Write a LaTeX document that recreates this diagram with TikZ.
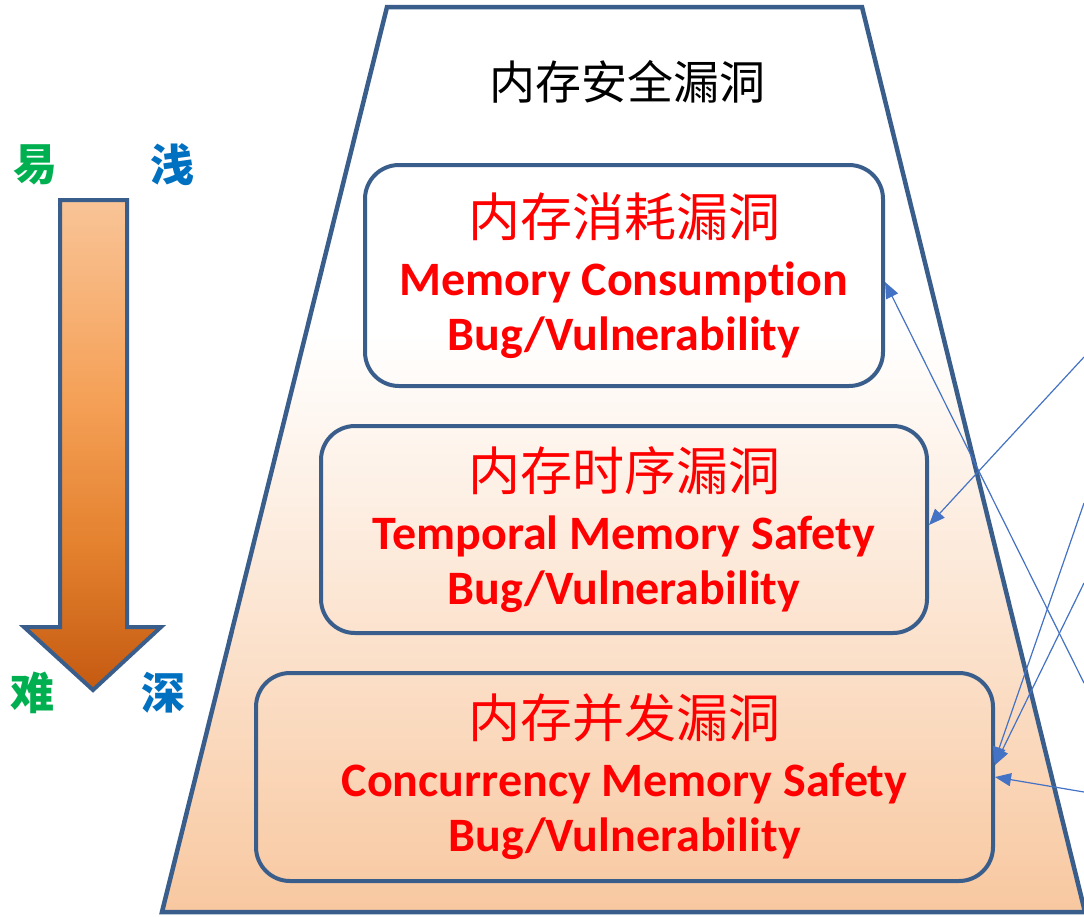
\documentclass[tikz,border=0pt]{standalone}
\usepackage{fontspec}
\newfontfamily\cjk{Noto Sans CJK SC}
\newfontfamily\calib[Ligatures=CommonOff]{Carlito}
\usetikzlibrary{arrows.meta,calc}

\definecolor{edge}{HTML}{3A5E8C}
\definecolor{peach}{HTML}{F8C8A0}
\definecolor{link}{HTML}{4472C4}
\definecolor{easy}{HTML}{00B050}
\definecolor{shallow}{HTML}{0070C0}
\definecolor{arrowtop}{HTML}{F9C497}
\definecolor{arrowmid}{HTML}{F5A158}
\definecolor{arrowmidlow}{HTML}{E4822F}
\definecolor{arrowlow}{HTML}{C55A11}

% background of the pyramid: white at the top, peach towards the base
\pgfdeclareverticalshading{pyramidfill}{100bp}{color(0bp)=(peach); color(25bp)=(peach); color(57bp)=(white); color(100bp)=(white)}
% the depth arrow: light orange at the top, burnt orange at the tip
\pgfdeclareverticalshading{depthfill}{100bp}{color(0bp)=(arrowlow); color(25bp)=(arrowlow); color(40bp)=(arrowmidlow); color(55bp)=(arrowmid); color(75bp)=(arrowtop); color(100bp)=(arrowtop)}

\tikzset{
  layer/.style={draw=edge, line width=4pt, rounded corners=34pt, align=center,
    font=\calib\bfseries\fontsize{48}{55}\selectfont, text=red},
  axislabel/.style={font=\cjk\bfseries\fontsize{44}{48}\selectfont},
  link/.style={draw=link, line width=1.2pt, -{Triangle[length=16pt,width=13pt]}},
}
\newcommand{\zh}[1]{{\cjk\mdseries\fontsize{52}{60}\selectfont #1}\\[4pt]}

\begin{document}
\begin{tikzpicture}[x=1pt,y=-1pt]
\useasboundingbox (0,0) rectangle (1084,916);
\fill[white] (0,0) rectangle (1084,916);

\begin{scope}
\clip (0,0) rectangle (1084,916);
% pyramid
\shadedraw[shading=pyramidfill, draw=edge, line width=4.5pt, line join=miter]
  (387,7) -- (862,7) -- (1085,912) -- (162,912) -- cycle;
\end{scope}

\node[font=\cjk\fontsize{46}{50}\selectfont] (title) at (627,82) {内存安全漏洞};

% the three layers
\node[layer, minimum width=518pt, minimum height=221pt] (b1) at (624,275.5)
  {\zh{内存消耗漏洞}Memory Consumption\\Bug/Vulnerability};
\node[layer, minimum width=606pt, minimum height=207pt] (b2) at (624,529.5)
  {\zh{内存时序漏洞}Temporal Memory Safety\\Bug/Vulnerability};
\node[layer, minimum width=737pt, minimum height=208pt] (b3) at (624.5,777)
  {\zh{内存并发漏洞}Concurrency Memory Safety\\Bug/Vulnerability};

% depth arrow on the left
\shadedraw[shading=depthfill, draw=edge, line width=4pt, line join=miter]
  (60,200) -- (127,200) -- (127,627) -- (161,627) -- (93,690) -- (24,627) -- (60,627) -- cycle;
\node[axislabel, text=easy] (easy) at (35,165) {易};
\node[axislabel, text=shallow] (shallow) at (172,165) {浅};
\node[axislabel, text=easy] (hard) at (32,693) {难};
\node[axislabel, text=shallow] (deep) at (163,693) {深};

% links coming in from the right
\coordinate (s1) at (1084,683);
\coordinate (s2) at (1084,357);
\coordinate (s3) at (1084,503);
\coordinate (s4) at (1084,583);
\coordinate (s5) at (1084,792);
\draw[link] (s1) -- ($(b1.east)+(0,6.5)$);
\draw[link] (s2) -- ($(b2.east)+(0,-4.5)$);
\draw[link] (s3) -- ($(b3.east)+(-1,-14)$);
\draw[link] (s4) -- ($(b3.east)+(0,-12)$);
\draw[link] (s5) -- ($(b3.east)+(0,0)$);
\end{tikzpicture}
\end{document}
